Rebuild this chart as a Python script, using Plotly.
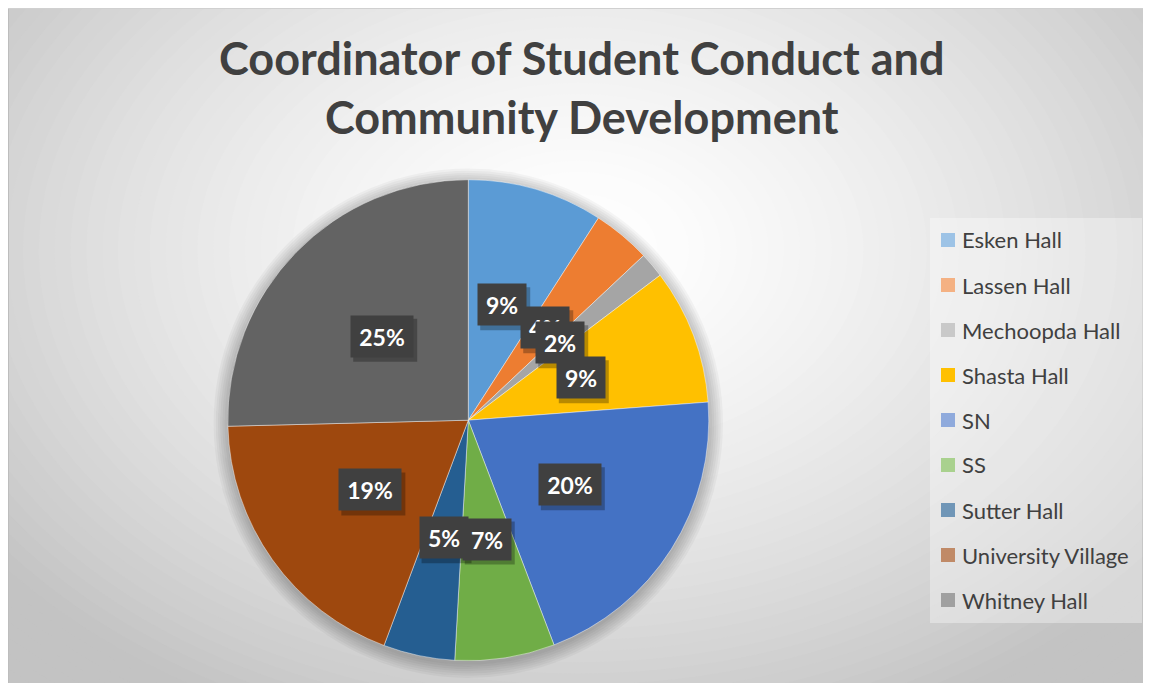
import math
import plotly.graph_objects as go

# ---------------- data ----------------
categories = ["Esken Hall", "Lassen Hall", "Mechoopda Hall", "Shasta Hall", "SN", "SS",
              "Sutter Hall", "University Village", "Whitney Hall"]
shares = [9.1, 3.9, 1.7, 9.1, 20.4, 6.7, 4.8, 18.9, 25.4]
slice_colors = ["#5B9BD5", "#ED7D31", "#A5A5A5", "#FFC000", "#4472C4", "#70AD47",
                "#255E91", "#9E480E", "#636363"]
legend_colors = ["#9DC3E6", "#F4B183", "#C9C9C9", "#FFC000", "#8FAADC", "#A9D18E",
                 "#7096B7", "#C08A67", "#A0A0A0"]
title_text = "Coordinator of Student Conduct and<br>Community Development"

# ---------------- layout geometry (page px; the page body has an 8px margin) ----------------
OX, OY = 8, 8
W, H = 1143, 675
cx, cy, R = 468.3, 420.2, 240.5          # pie centre / radius in page px
FONT = "Lato, Carlito, Calibri, 'Open Sans', sans-serif"


def px(x):
    return (x - OX) / W


def py(y):
    return 1 - (y - OY) / H


fig = go.Figure()
fig.add_trace(go.Pie(
    labels=categories, values=shares, sort=False, direction="clockwise", rotation=0,
    marker=dict(colors=slice_colors, line=dict(color="rgba(255,255,255,0.55)", width=0.8)),
    textinfo="none", hoverinfo="label+percent", showlegend=False,
    domain=dict(x=[px(cx - R), px(cx + R)], y=[py(cy + R), py(cy - R)]),
))

shapes = []
# radial gradient background (stepped ellipses)
gcx, gcy = 578, 250
AX, AY = 740, 520
N = 56
TMAX = 1.2


def grey(t):
    g = int(round(255 - 60 * min(t, 1.0) ** 1.5))
    return f"rgb({g},{g},{g})"


for k in range(N, 0, -1):
    t = TMAX * k / N
    ax, ay = t * AX, t * AY
    shapes.append(dict(type="circle", xref="paper", yref="paper", layer="below",
                       x0=px(gcx - ax), x1=px(gcx + ax), y0=py(gcy + ay), y1=py(gcy - ay),
                       fillcolor=grey(t), line=dict(width=0)))
# thin frame on the left / top edge of the chart area
shapes.append(dict(type="line", xref="paper", yref="paper", layer="below",
                   x0=0, x1=0, y0=0, y1=1, line=dict(color="#bdbdbd", width=2)))
shapes.append(dict(type="line", xref="paper", yref="paper", layer="below",
                   x0=0, x1=1, y0=1, y1=1, line=dict(color="#d0d0d0", width=2)))
# soft pie shadow
for i in range(7):
    rr = R + 1 + i * 2.2
    shapes.append(dict(type="circle", xref="paper", yref="paper", layer="below",
                       x0=px(cx - rr), x1=px(cx + rr), y0=py(cy + 3 + rr), y1=py(cy + 3 - rr),
                       fillcolor="rgba(0,0,0,0.035)", line=dict(width=0)))
# legend box
shapes.append(dict(type="rect", xref="paper", yref="paper", layer="below",
                   x0=px(930), x1=px(1142), y0=py(623), y1=py(218),
                   fillcolor="rgba(255,255,255,0.35)", line=dict(width=0)))

annotations = []
# title
annotations.append(dict(text=title_text, x=px(582), y=py(87), xref="paper", yref="paper",
                        xanchor="center", yanchor="middle", showarrow=False,
                        font=dict(family=FONT, size=45, color="#404040", weight=700)))
# legend entries
for i, (cat, col) in enumerate(zip(categories, legend_colors)):
    yc = 240 + i * 45
    shapes.append(dict(type="rect", xref="paper", yref="paper",
                       x0=px(941), x1=px(955), y0=py(yc + 7), y1=py(yc - 7),
                       fillcolor=col, line=dict(width=0)))
    annotations.append(dict(text=cat, x=px(960), y=py(yc), xref="paper", yref="paper",
                            xanchor="left", yanchor="middle", showarrow=False,
                            font=dict(family=FONT, size=22, color="#404040")))

# data labels (dark callout boxes with a drop shadow)
PAD, BH = 7, 27
total = sum(shares)
cum = 0.0
for v in shares:
    mid = (cum + v / 2) / total * 2 * math.pi
    cum += v
    lx = cx + 0.5 * R * math.sin(mid)
    ly = cy - 0.5 * R * math.cos(mid)
    txt = f"{round(v / total * 100)}%"
    bw = 14 * len(txt) + 6
    hw, hh = (bw + 2 * PAD + 2) / 2, (BH + 2 * PAD + 2) / 2
    shapes.append(dict(type="rect", xref="paper", yref="paper", layer="above",
                       xsizemode="pixel", ysizemode="pixel", xanchor=px(lx), yanchor=py(ly),
                       x0=-hw + 3, x1=hw + 3, y0=-hh - 4, y1=hh - 4,
                       fillcolor="rgba(0,0,0,0.28)", line=dict(width=0)))
    annotations.append(dict(text=txt, x=px(lx), y=py(ly), xref="paper", yref="paper",
                            xanchor="center", yanchor="middle", showarrow=False,
                            width=bw, height=BH, borderpad=PAD, bgcolor="#404040",
                            font=dict(family=FONT, size=23, color="white", weight=700)))

fig.update_layout(
    width=W, height=H, margin=dict(l=0, r=0, t=0, b=0),
    paper_bgcolor=grey(TMAX), plot_bgcolor="white",
    shapes=shapes, annotations=annotations, showlegend=False,
)

fig.write_html("out.html")
